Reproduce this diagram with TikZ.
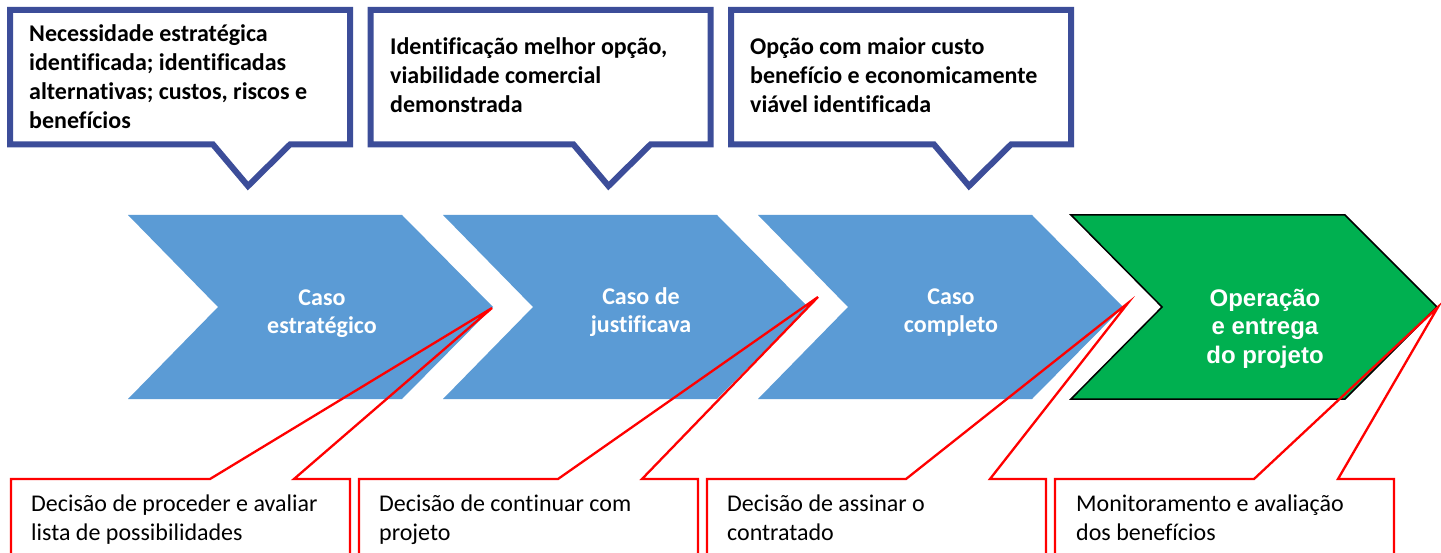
\documentclass[tikz,border=0pt]{standalone}
\usepackage{fontspec}
\setmainfont{Carlito}[Ligatures=NoCommon]
\newfontfamily\arialf{Liberation Sans}
\definecolor{chev}{HTML}{5B9BD5}
\definecolor{chevg}{HTML}{00B050}
\definecolor{cblue}{RGB}{60,77,153}
\definecolor{cred}{RGB}{255,0,0}
\tikzset{
  chevshape/.style={fill=chev},
  chevtext/.style={text=white, font=\fontsize{24}{28}\selectfont\bfseries, align=center, inner sep=0pt, anchor=base},
  greentext/.style={text=white, font=\arialf\fontsize{24}{28.5}\selectfont\bfseries, align=center, inner sep=0pt, anchor=base},
  topbox/.style={draw=cblue, fill=white, line width=6pt, line join=miter},
  toptext/.style={font=\fontsize{24}{28.7}\selectfont\bfseries, align=left, inner sep=0pt, anchor=base west},
  botbox/.style={draw=cred, line width=2.3pt, line join=miter},
  bottext/.style={font=\fontsize{24}{29}\selectfont, align=left, inner sep=0pt, anchor=base west},
}
\begin{document}
\begin{tikzpicture}[x=1pt,y=-1pt]
\clip (0,0) rectangle (1441,553);
\fill[white] (0,0) rectangle (1441,553);
% chevrons
\foreach \lx in {128,443,758}{
  \fill[chevshape] (\lx,215) -- (\lx+274,215) -- (\lx+365,307) -- (\lx+274,399) -- (\lx,399) -- (\lx+90,307) -- cycle;
}
\filldraw[fill=chevg, draw=black, line width=1.5pt, line join=miter] (1071,215) -- (1345,215) -- (1437,307) -- (1345,399) -- (1071,399) -- (1162,307) -- cycle;
\coordinate (tipA) at (492,308);
\coordinate (tipB) at (818,297);
\coordinate (tipC) at (1128,303);
\coordinate (tipD) at (1438,307);
% chevron texts (anchored at the baseline of the last line)
\node[chevtext] (c1) at (322,334) {Caso\\estratégico};
\node[chevtext] (c2) at (641,333) {Caso de\\justificava};
\node[chevtext] (c3) at (951,333) {Caso\\completo};
\node[greentext] (c4) at (1265,363) {Operação\\e entrega\\do projeto};
% top callouts
\foreach \l in {10,370.5,731}{
  \draw[topbox] (\l,10) -- (\l+340,10) -- (\l+340,144.5) -- (\l+280,144.5) -- (\l+238,186) -- (\l+203,144.5) -- (\l,144.5) -- cycle;
}
\node[toptext] (t1) at (29,128.1) {Necessidade estratégica\\identificada; identificadas\\alternativas; custos, riscos e\\benefícios};
\node[toptext] (t2) at (390,112.4) {Identificação melhor opção,\\viabilidade comercial\\demonstrada};
\node[toptext] (t3) at (750,112.4) {Opção com maior custo\\benefício e economicamente\\viável identificada};
% bottom callouts
\foreach \l/\t in {11/tipA,359/tipB,707/tipC,1055/tipD}{
  \draw[botbox] (\l,620) -- (\l,479) -- (\l+199,479) -- (\t) -- (\l+283,479) -- (\l+339,479) -- (\l+339,620);
}
\node[bottext] (b1) at (31,540) {Decisão de proceder e avaliar\\lista de possibilidades};
\node[bottext] (b2) at (379,540) {Decisão de continuar com\\projeto};
\node[bottext] (b3) at (727,540) {Decisão de assinar o\\contratado};
\node[bottext] (b4) at (1076,540) {Monitoramento e avaliação\\dos benefícios};
\end{tikzpicture}
\end{document}
